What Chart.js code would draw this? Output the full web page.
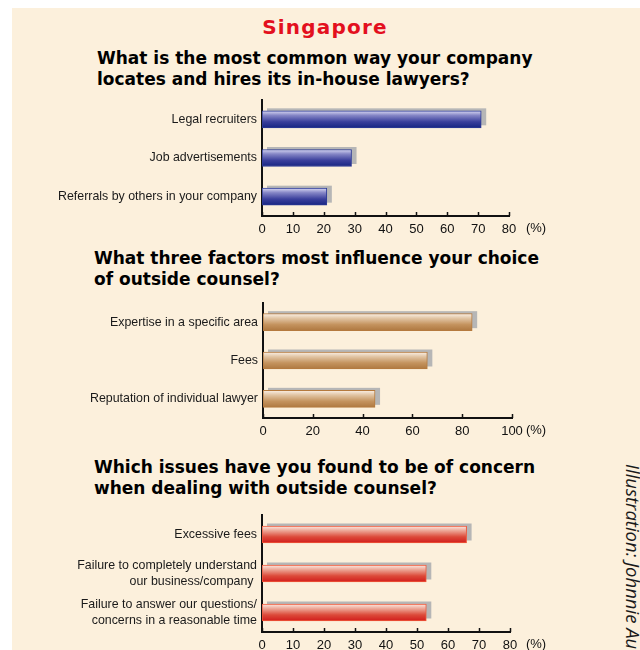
<!DOCTYPE html>
<html>
<head>
<meta charset="utf-8">
<script src="https://cdn.jsdelivr.net/npm/chart.js@4.4.0/dist/chart.umd.min.js"></script>
<style>
  body { margin: 0; width: 640px; height: 650px; background: #fff; position: relative; overflow: hidden; font-family: "Liberation Sans", Arial, sans-serif; }
  #panel { position: absolute; left: 12px; top: 8px; width: 628px; height: 642px; background: #fcf0dc; }
  .q { position: absolute; font-family: "DejaVu Sans", sans-serif; font-weight: bold; font-size: 17px; line-height: 21px; color: #000; white-space: nowrap; }
  #country { position: absolute; left: 0; width: 650px; top: 15px; text-align: center; font-family: "DejaVu Sans", sans-serif; font-weight: bold; font-size: 20px; letter-spacing: 1.2px; color: #e3101e; }
  #credit { position: absolute; left: 644px; top: 464px; transform: rotate(90deg); transform-origin: left top; font-family: "Open Sans", sans-serif; font-style: italic; font-size: 18.5px; line-height: 22px; color: #1a1a1a; white-space: nowrap; }
  canvas { position: absolute; left: 0; }
</style>
</head>
<body>
<div id="panel"></div>
<div id="country">Singapore</div>
<div class="q" style="left:97px; top:48px;">What is the most common way your company<br>locates and hires its in-house lawyers?</div>
<div class="q" style="left:94px; top:248px;">What three factors most influence your choice<br>of outside counsel?</div>
<div class="q" style="left:94px; top:457px;">Which issues have you found to be of concern<br>when dealing with outside counsel?</div>
<div id="credit">Illustration: Johnnie Au</div>

<canvas id="hireChart" width="600" height="142" style="top:96px"></canvas>
<canvas id="factorChart" width="600" height="141" style="top:299px"></canvas>
<canvas id="concernChart" width="600" height="139" style="top:511px"></canvas>

<script>
// 数据
const hireLabels = ['Legal recruiters', 'Job advertisements', 'Referrals by others in your company'];
const hireValues = [71, 29, 21];

const factorLabels = ['Expertise in a specific area', 'Fees', 'Reputation of individual lawyer'];
const factorValues = [84, 66, 45];

const concernLabels = ['Excessive fees', ['Failure to completely understand', 'our business/company '], ['Failure to answer our questions/', 'concerns in a reasonable time']];
const concernValues = [66, 53, 53];

const hireAxis = { max: 80, step: 10 };
const factorAxis = { max: 100, step: 20 };
const concernAxis = { max: 80, step: 10 };

// 颜色
const blueStops = ['#2c3a96', '#cfcfee', '#8586c6', '#3a3f9c', '#1a2784'];
const brownStops = ['#b57a3e', '#f8ece0', '#e2c6a6', '#c4935e', '#b07a42'];
const redStops = ['#f0583a', '#fbe2da', '#eda898', '#dc4a3a', '#d2201e'];

// 柱子阴影 + 刻度 + (%)
const decorPlugin = {
    id: 'decor',
    beforeDatasetsDraw(chart) {
        const ctx = chart.ctx;
        const xs = chart.scales.x;
        const base = xs.getPixelForValue(0);
        ctx.save();
        ctx.fillStyle = '#b6b6b6';
        chart.getDatasetMeta(0).data.forEach(bar => {
            const p = bar.getProps(['x', 'y', 'height'], true);
            ctx.fillRect(base + 5, p.y - p.height / 2 - 2.5, p.x - base, p.height);
        });
        ctx.restore();
    },
    afterDraw(chart) {
        const ctx = chart.ctx;
        const xs = chart.scales.x;
        const bottom = chart.chartArea.bottom;
        ctx.save();
        ctx.strokeStyle = '#111';
        ctx.lineWidth = 1.5;
        xs.ticks.forEach(t => {
            const px = Math.round(xs.getPixelForValue(t.value)) + 0.5;
            ctx.beginPath();
            ctx.moveTo(px, bottom);
            ctx.lineTo(px, bottom - 4);
            ctx.stroke();
        });
        ctx.fillStyle = '#111';
        ctx.font = '13px "Liberation Sans", Arial, sans-serif';
        ctx.textAlign = 'center';
        ctx.textBaseline = 'top';
        ctx.fillText('(%)', 536, bottom + 6);
        ctx.restore();
    }
};

function makeGradient(stops) {
    return function(c) {
        if (c.type !== 'data') return stops[4];
        const ys = c.chart.scales.y;
        const yc = ys ? ys.getPixelForValue(c.dataIndex) : NaN;
        if (!isFinite(yc)) return stops[4];
        const g = c.chart.ctx.createLinearGradient(0, yc - 8, 0, yc + 8);
        g.addColorStop(0, stops[1]);
        g.addColorStop(0.25, stops[2]);
        g.addColorStop(0.65, stops[3]);
        g.addColorStop(1, stops[4]);
        return g;
    };
}

function buildChart(id, labels, values, axis, stops, axisLeft, axisRight, xHeight) {
    const ctx = document.getElementById(id).getContext('2d');
    return new Chart(ctx, {
        type: 'bar',
        data: {
            labels: labels,
            datasets: [{
                data: values,
                backgroundColor: makeGradient(stops),
                borderColor: stops[0],
                borderWidth: 1,
                borderSkipped: false,
                barThickness: 17
            }]
        },
        options: {
            indexAxis: 'y',
            responsive: false,
            animation: false,
            layout: { padding: { top: 4, left: 0, right: 600 - axisRight, bottom: 0 } },
            plugins: { legend: { display: false }, tooltip: { enabled: false } },
            scales: {
                x: {
                    min: 0,
                    max: axis.max,
                    grid: { display: false, drawTicks: false },
                    border: { display: true, color: '#111', width: 2 },
                    ticks: {
                        stepSize: axis.step,
                        padding: 6,
                        color: '#111',
                        font: { family: '"Liberation Sans", Arial, sans-serif', size: 13 }
                    },
                    afterFit(scale) { scale.height = xHeight; }
                },
                y: {
                    grid: { display: false, drawTicks: false },
                    border: { display: true, color: '#111', width: 2 },
                    ticks: {
                        padding: 5,
                        color: '#1a1a1a',
                        font: { family: '"Liberation Sans", Arial, sans-serif', size: 12.4, lineHeight: 1.25 }
                    },
                    afterFit(scale) {
                        scale.width = axisLeft;
                        scale.paddingTop = 0;
                        scale.paddingBottom = 0;
                    }
                }
            }
        },
        plugins: [decorPlugin]
    });
}

document.addEventListener('DOMContentLoaded', function() {
    buildChart('hireChart', hireLabels, hireValues, hireAxis, blueStops, 262, 509, 22);
    buildChart('factorChart', factorLabels, factorValues, factorAxis, brownStops, 263, 512, 22);
    buildChart('concernChart', concernLabels, concernValues, concernAxis, redStops, 262, 510, 18);
});
</script>
</body>
</html>
